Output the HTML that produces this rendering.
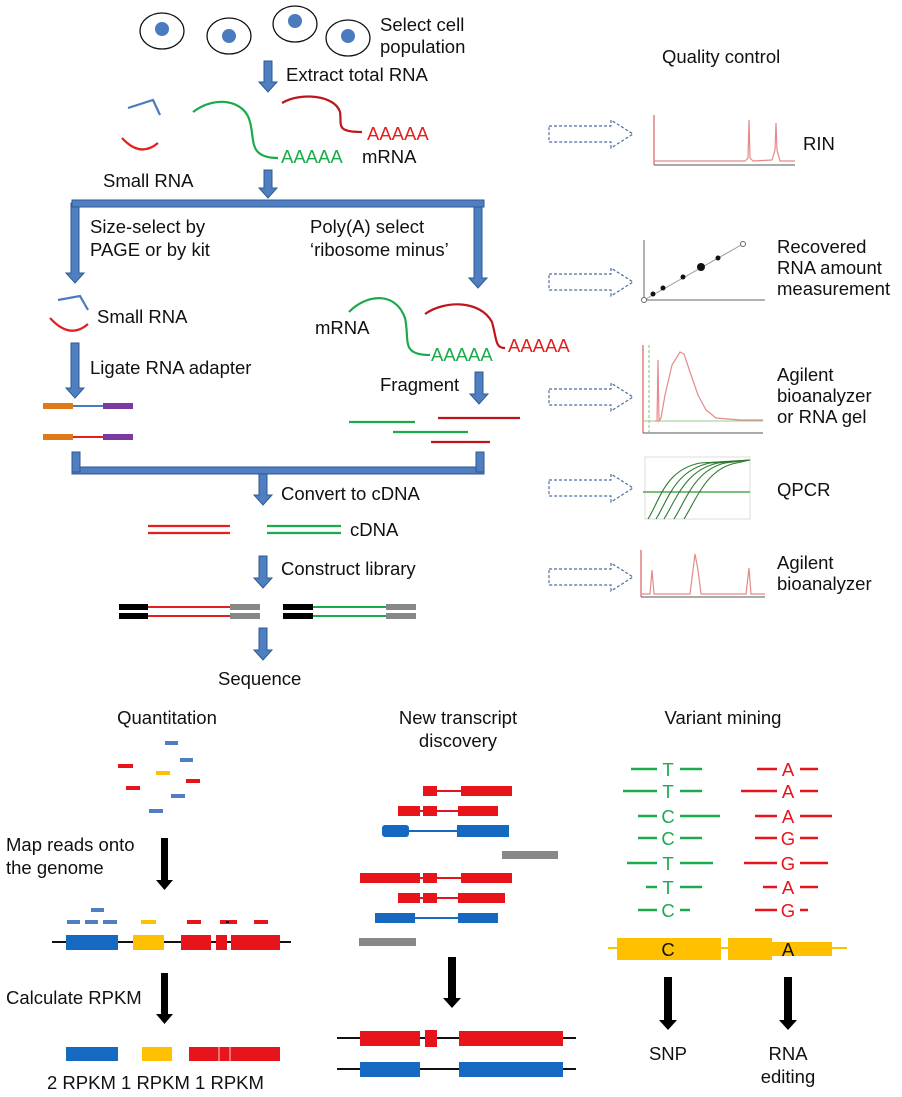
<!DOCTYPE html>
<html><head><meta charset="utf-8"><style>
html,body{margin:0;padding:0;background:#fff;}
svg{display:block;font-family:"Liberation Sans",Arial,sans-serif;}
.t{font-size:18.5px;fill:#111;}
.ba{fill:#4f7fc0;stroke:#2e5a94;stroke-width:1;}
.da{fill:none;stroke:#4a6fa5;stroke-width:1.2;stroke-dasharray:3 2;}
</style></head><body>
<svg width="902" height="1097" viewBox="0 0 902 1097">
<g stroke="#111" stroke-width="1.3" fill="#fff">
<ellipse cx="162" cy="31" rx="22" ry="18"/><ellipse cx="229" cy="36" rx="22" ry="18"/>
<ellipse cx="295" cy="24" rx="22" ry="18"/><ellipse cx="348" cy="38" rx="22" ry="18"/>
</g>
<g fill="#4a7bbf">
<circle cx="162" cy="29" r="7"/><circle cx="229" cy="36" r="7"/><circle cx="295" cy="21" r="7"/><circle cx="348" cy="36" r="7"/>
</g>
<text class="t" x="380" y="31">Select cell</text>
<text class="t" x="380" y="53">population</text>

<g class="ba">
<polygon points="264,61 272,61 272,82 277,82 268,92 259,82 264,82"/>
<polygon points="264,170 272,170 272,188 277,188 268,198 259,188 264,188"/>
<polygon points="71,203 79,203 79,273 84,273 75,283 66,273 71,273"/>
<polygon points="474,203 482,203 482,278 487,278 478,288 469,278 474,278"/>
<polygon points="71,343 79,343 79,388 84,388 75,398 66,388 71,388"/>
<polygon points="475,372 483,372 483,394 488,394 479,404 470,394 475,394"/>
<polygon points="259,474 267,474 267,495 272,495 263,505 254,495 259,495"/>
<polygon points="259,556 267,556 267,578 272,578 263,588 254,578 259,578"/>
<polygon points="259,628 267,628 267,650 272,650 263,660 254,650 259,650"/>
<rect x="72" y="200" width="412" height="7"/>
<rect x="72" y="467" width="412" height="7"/>
<rect x="72" y="452" width="8" height="20"/>
<rect x="476" y="452" width="8" height="20"/>
</g>
<text class="t" x="286" y="81">Extract total RNA</text>

<g fill="none" stroke-width="2.2">
<path d="M128,108 L153,100 L160,115" stroke="#4a7bbf"/>
<path d="M122,138 Q140,158 158,143" stroke="#e32020"/>
<path d="M193,112 C215,95 245,100 250,122 C255,140 248,158 278,158" stroke="#1aab4a"/>
<path d="M282,103 C300,92 335,95 340,112 C342,125 335,132 362,132" stroke="#c0141c"/>
</g>
<text x="281" y="163" fill="#1aab4a" font-size="18.5">AAAAA</text>
<text x="367" y="140" fill="#e32020" font-size="18.5">AAAAA</text>
<text class="t" x="362" y="163">mRNA</text>
<text class="t" x="103" y="187">Small RNA</text>
<text class="t" x="90" y="233">Size-select by</text>
<text class="t" x="90" y="256">PAGE or by kit</text>
<text class="t" x="310" y="233">Poly(A) select</text>
<text class="t" x="310" y="256">‘ribosome minus’</text>

<g fill="none" stroke-width="2.2">
<path d="M58,300 L80,296 L88,310" stroke="#4a7bbf"/>
<path d="M50,318 Q70,340 88,324" stroke="#e32020"/>
<path d="M349,312 C365,295 395,290 405,318 C410,340 400,355 430,355" stroke="#1aab4a"/>
<path d="M425,314 C445,300 480,300 492,322 C497,340 495,348 505,348" stroke="#c0141c"/>
</g>
<text class="t" x="97" y="323">Small RNA</text>
<text class="t" x="315" y="334">mRNA</text>
<text x="431" y="361" fill="#1aab4a" font-size="18.5">AAAAA</text>
<text x="508" y="352" fill="#e32020" font-size="18.5">AAAAA</text>
<text class="t" x="90" y="374">Ligate RNA adapter</text>
<text class="t" x="380" y="391">Fragment</text>

<g>
<line x1="73" y1="406" x2="103" y2="406" stroke="#4a7bbf" stroke-width="2"/>
<rect x="43" y="403" width="30" height="6" fill="#e07a18"/><rect x="103" y="403" width="30" height="6" fill="#7a3aa0"/>
<line x1="73" y1="437" x2="103" y2="437" stroke="#e32020" stroke-width="2"/>
<rect x="43" y="434" width="30" height="6" fill="#e07a18"/><rect x="103" y="434" width="30" height="6" fill="#7a3aa0"/>
</g>
<g stroke-width="2.2">
<line x1="349" y1="422" x2="415" y2="422" stroke="#1aab4a"/>
<line x1="393" y1="432" x2="468" y2="432" stroke="#1aab4a"/>
<line x1="438" y1="418" x2="520" y2="418" stroke="#c0141c"/>
<line x1="431" y1="442" x2="490" y2="442" stroke="#c0141c"/>
</g>
<text class="t" x="281" y="500">Convert to cDNA</text>
<g stroke-width="2.2">
<line x1="148" y1="526" x2="230" y2="526" stroke="#e32020"/><line x1="148" y1="533" x2="230" y2="533" stroke="#e32020"/>
<line x1="267" y1="526" x2="341" y2="526" stroke="#1aab4a"/><line x1="267" y1="533" x2="341" y2="533" stroke="#1aab4a"/>
</g>
<text class="t" x="350" y="536">cDNA</text>
<text class="t" x="281" y="575">Construct library</text>
<g>
<line x1="148" y1="607" x2="230" y2="607" stroke="#e32020" stroke-width="2"/><line x1="148" y1="616" x2="230" y2="616" stroke="#e32020" stroke-width="2"/>
<rect x="119" y="604" width="29" height="6" fill="#000"/><rect x="119" y="613" width="29" height="6" fill="#000"/>
<rect x="230" y="604" width="30" height="6" fill="#888"/><rect x="230" y="613" width="30" height="6" fill="#888"/>
<line x1="313" y1="607" x2="386" y2="607" stroke="#1aab4a" stroke-width="2"/><line x1="313" y1="616" x2="386" y2="616" stroke="#1aab4a" stroke-width="2"/>
<rect x="283" y="604" width="30" height="6" fill="#000"/><rect x="283" y="613" width="30" height="6" fill="#000"/>
<rect x="386" y="604" width="30" height="6" fill="#888"/><rect x="386" y="613" width="30" height="6" fill="#888"/>
</g>
<text class="t" x="218" y="685">Sequence</text>

<text class="t" x="662" y="63">Quality control</text>
<g>
<path class="da" d="M549,126 L611,126 L611,120 L633,134 L611,148 L611,142 L549,142 Z"/>
<path class="da" d="M549,274 L611,274 L611,268 L633,282 L611,296 L611,290 L549,290 Z"/>
<path class="da" d="M549,389 L611,389 L611,383 L633,397 L611,411 L611,405 L549,405 Z"/>
<path class="da" d="M549,480 L611,480 L611,474 L633,488 L611,502 L611,496 L549,496 Z"/>
<path class="da" d="M549,569 L611,569 L611,563 L633,577 L611,591 L611,585 L549,585 Z"/>
</g>
<g fill="none">
<line x1="654" y1="115" x2="654" y2="165" stroke="#d04040" stroke-width="1"/>
<line x1="654" y1="165" x2="795" y2="165" stroke="#555" stroke-width="1"/>
<polyline points="654,161 745,161 748,158 749,120 750,158 753,161 772,160 775,150 776,123 777,150 780,161 795,161" stroke="#e58a8a" stroke-width="1.2"/>
</g>
<text class="t" x="803" y="150">RIN</text>
<g>
<line x1="644" y1="240" x2="644" y2="300" stroke="#666"/>
<line x1="644" y1="300" x2="765" y2="300" stroke="#666"/>
<line x1="644" y1="300" x2="743" y2="244" stroke="#999"/>
<circle cx="644" cy="300" r="2.5" fill="#fff" stroke="#666"/><circle cx="743" cy="244" r="2.5" fill="#fff" stroke="#666"/>
<circle cx="653" cy="294" r="2.5" fill="#111"/><circle cx="663" cy="288" r="2.5" fill="#111"/><circle cx="683" cy="277" r="2.5" fill="#111"/><circle cx="701" cy="267" r="4" fill="#111"/><circle cx="718" cy="258" r="2.5" fill="#111"/>
</g>
<text class="t" x="777" y="253">Recovered</text>
<text class="t" x="777" y="274">RNA amount</text>
<text class="t" x="777" y="295">measurement</text>
<g fill="none">
<line x1="643" y1="345" x2="643" y2="433" stroke="#d04040"/>
<line x1="643" y1="433" x2="763" y2="433" stroke="#555"/>
<line x1="649" y1="345" x2="649" y2="433" stroke="#7ac47a" stroke-dasharray="3 2"/>
<line x1="643" y1="421" x2="763" y2="421" stroke="#8fcf8f"/>
<polyline points="655,421 657,421 658,360 659,421 661,418 665,395 672,365 680,352 684,354 690,372 698,395 706,410 716,418 740,420 763,420" stroke="#e58a8a" stroke-width="1.2"/>
</g>
<text class="t" x="777" y="381">Agilent</text>
<text class="t" x="777" y="402">bioanalyzer</text>
<text class="t" x="777" y="423">or RNA gel</text>
<g fill="none">
<rect x="645" y="457" width="105" height="62" stroke="#ddd"/>
<line x1="643" y1="492" x2="750" y2="492" stroke="#2a9a2a" stroke-width="1.2"/>
<g stroke="#2d7a2d" stroke-width="1.1">
<path d="M648,519 C660,500 665,470 700,463 L750,460"/>
<path d="M656,519 C668,500 675,470 710,463 L750,460"/>
<path d="M664,519 C676,500 685,470 718,463 L750,460"/>
<path d="M674,519 C686,500 695,470 725,463 L750,460"/>
<path d="M684,519 C696,500 705,472 732,464 L750,460"/>
</g>
</g>
<text class="t" x="777" y="496">QPCR</text>
<g fill="none">
<line x1="641" y1="550" x2="641" y2="597" stroke="#d04040"/>
<line x1="641" y1="597" x2="765" y2="597" stroke="#555"/>
<polyline points="641,594 650,594 652,570 654,594 690,594 693,570 695,554 698,570 701,594 746,594 749,568 751,594 765,594" stroke="#e58a8a" stroke-width="1.2"/>
</g>
<text class="t" x="777" y="569">Agilent</text>
<text class="t" x="777" y="590">bioanalyzer</text>

<text class="t" x="167" y="724" text-anchor="middle">Quantitation</text>
<g>
<rect x="165" y="741" width="13" height="4" fill="#4f7fc0"/><rect x="180" y="758" width="13" height="4" fill="#4f7fc0"/>
<rect x="118" y="764" width="15" height="4" fill="#e8141c"/><rect x="156" y="771" width="14" height="4" fill="#ffc000"/>
<rect x="186" y="779" width="14" height="4" fill="#e8141c"/><rect x="126" y="786" width="14" height="4" fill="#e8141c"/>
<rect x="171" y="794" width="14" height="4" fill="#4f7fc0"/><rect x="149" y="809" width="14" height="4" fill="#4f7fc0"/>
</g>
<text class="t" x="6" y="851">Map reads onto</text>
<text class="t" x="6" y="874">the genome</text>
<g fill="#000">
<polygon points="161,838 168,838 168,880 173,880 164.5,890 156,880 161,880"/>
<polygon points="161,973 168,973 168,1014 173,1014 164.5,1024 156,1014 161,1014"/>
<polygon points="448,957 456,957 456,998 461,998 452,1008 443,998 448,998"/>
<polygon points="664,977 672,977 672,1020 677,1020 668,1030 659,1020 664,1020"/>
<polygon points="784,977 792,977 792,1020 797,1020 788,1030 779,1020 784,1020"/>
</g>
<g>
<line x1="52" y1="942" x2="291" y2="942" stroke="#111" stroke-width="2"/>
<rect x="66" y="935" width="52" height="15" fill="#1569c0"/><rect x="133" y="935" width="31" height="15" fill="#ffc000"/>
<rect x="181" y="935" width="30" height="15" fill="#e8141c"/><rect x="216" y="935" width="11" height="15" fill="#e8141c"/><rect x="231" y="935" width="49" height="15" fill="#e8141c"/>
<rect x="91" y="908" width="13" height="4" fill="#4f7fc0"/>
<rect x="67" y="920" width="13" height="4" fill="#4f7fc0"/><rect x="85" y="920" width="13" height="4" fill="#4f7fc0"/><rect x="103" y="920" width="14" height="4" fill="#4f7fc0"/>
<rect x="141" y="920" width="15" height="4" fill="#ffc000"/>
<rect x="187" y="920" width="14" height="4" fill="#e8141c"/><rect x="220" y="920" width="17" height="4" fill="#e8141c"/><rect x="226" y="921" width="3" height="2" fill="#000"/><rect x="254" y="920" width="14" height="4" fill="#e8141c"/>
</g>
<text class="t" x="6" y="1004">Calculate RPKM</text>
<g>
<rect x="66" y="1047" width="52" height="14" fill="#1569c0"/><rect x="142" y="1047" width="30" height="14" fill="#ffc000"/>
<rect x="189" y="1047" width="91" height="14" fill="#e8141c"/>
<line x1="219" y1="1047" x2="219" y2="1061" stroke="#fff" stroke-width="0.8"/><line x1="230" y1="1047" x2="230" y2="1061" stroke="#fff" stroke-width="0.8"/>
</g>
<text class="t" x="47" y="1089">2 RPKM 1 RPKM  1 RPKM</text>

<text class="t" x="458" y="724" text-anchor="middle">New transcript</text>
<text class="t" x="458" y="747" text-anchor="middle">discovery</text>
<g>
<g fill="#e8141c" stroke="#e8141c" stroke-width="2">
<line x1="424" y1="791" x2="511" y2="791"/><rect x="424" y="787" width="12" height="8"/><rect x="462" y="787" width="49" height="8"/>
<line x1="399" y1="811" x2="497" y2="811"/><rect x="399" y="807" width="20" height="8"/><rect x="424" y="807" width="12" height="8"/><rect x="459" y="807" width="38" height="8"/>
<line x1="361" y1="878" x2="511" y2="878"/><rect x="361" y="874" width="58" height="8"/><rect x="424" y="874" width="12" height="8"/><rect x="462" y="874" width="49" height="8"/>
<line x1="399" y1="898" x2="504" y2="898"/><rect x="399" y="894" width="20" height="8"/><rect x="424" y="894" width="12" height="8"/><rect x="459" y="894" width="45" height="8"/>
</g>
<g fill="#1569c0" stroke="#1569c0" stroke-width="2">
<line x1="383" y1="831" x2="508" y2="831"/><rect x="383" y="826" width="25" height="10" rx="2"/><rect x="458" y="826" width="50" height="10"/>
<line x1="376" y1="918" x2="497" y2="918"/><rect x="376" y="914" width="38" height="8"/><rect x="459" y="914" width="38" height="8"/>
</g>
<rect x="502" y="851" width="56" height="8" fill="#888"/>
<rect x="359" y="938" width="57" height="8" fill="#888"/>
</g>
<g>
<line x1="337" y1="1038" x2="576" y2="1038" stroke="#111" stroke-width="2"/>
<rect x="360" y="1031" width="60" height="15" fill="#e8141c"/><rect x="425" y="1030" width="12" height="17" fill="#e8141c"/><rect x="459" y="1031" width="104" height="15" fill="#e8141c"/>
<line x1="337" y1="1069" x2="576" y2="1069" stroke="#111" stroke-width="2"/>
<rect x="360" y="1062" width="60" height="15" fill="#1569c0"/><rect x="459" y="1062" width="104" height="15" fill="#1569c0"/>
</g>

<text class="t" x="723" y="724" text-anchor="middle">Variant mining</text>
<g stroke-width="2.5">
<g stroke="#1aab4a">
<line x1="631" y1="769" x2="657" y2="769"/><line x1="680" y1="769" x2="702" y2="769"/>
<line x1="623" y1="791" x2="657" y2="791"/><line x1="680" y1="791" x2="702" y2="791"/>
<line x1="638" y1="816" x2="657" y2="816"/><line x1="680" y1="816" x2="720" y2="816"/>
<line x1="638" y1="838" x2="657" y2="838"/><line x1="680" y1="838" x2="702" y2="838"/>
<line x1="627" y1="863" x2="657" y2="863"/><line x1="680" y1="863" x2="713" y2="863"/>
<line x1="646" y1="887" x2="657" y2="887"/><line x1="680" y1="887" x2="702" y2="887"/>
<line x1="638" y1="910" x2="657" y2="910"/><line x1="680" y1="910" x2="690" y2="910"/>
</g>
<g stroke="#e8141c">
<line x1="757" y1="769" x2="777" y2="769"/><line x1="800" y1="769" x2="818" y2="769"/>
<line x1="741" y1="791" x2="777" y2="791"/><line x1="800" y1="791" x2="818" y2="791"/>
<line x1="755" y1="816" x2="777" y2="816"/><line x1="800" y1="816" x2="832" y2="816"/>
<line x1="755" y1="838" x2="777" y2="838"/><line x1="800" y1="838" x2="818" y2="838"/>
<line x1="744" y1="863" x2="777" y2="863"/><line x1="800" y1="863" x2="828" y2="863"/>
<line x1="763" y1="887" x2="777" y2="887"/><line x1="800" y1="887" x2="818" y2="887"/>
<line x1="755" y1="910" x2="777" y2="910"/><line x1="800" y1="910" x2="808" y2="910"/>
</g>
</g>
<g font-size="18.5" text-anchor="middle">
<g fill="#1aab4a"><text x="668" y="776">T</text><text x="668" y="798">T</text><text x="668" y="823">C</text><text x="668" y="845">C</text><text x="668" y="870">T</text><text x="668" y="894">T</text><text x="668" y="917">C</text></g>
<g fill="#e8141c"><text x="788" y="776">A</text><text x="788" y="798">A</text><text x="788" y="823">A</text><text x="788" y="845">G</text><text x="788" y="870">G</text><text x="788" y="894">A</text><text x="788" y="917">G</text></g>
</g>
<g>
<line x1="608" y1="948" x2="847" y2="948" stroke="#ffc000" stroke-width="2"/>
<rect x="617" y="938" width="104" height="22" fill="#ffc000"/><rect x="728" y="938" width="44" height="22" fill="#ffc000"/><rect x="772" y="942" width="60" height="14" fill="#ffc000"/>
</g>
<text class="t" x="668" y="956" text-anchor="middle">C</text>
<text class="t" x="788" y="956" text-anchor="middle">A</text>
<text class="t" x="668" y="1060" text-anchor="middle">SNP</text>
<text class="t" x="788" y="1060" text-anchor="middle">RNA</text>
<text class="t" x="788" y="1083" text-anchor="middle">editing</text>
</svg>
</body></html>
